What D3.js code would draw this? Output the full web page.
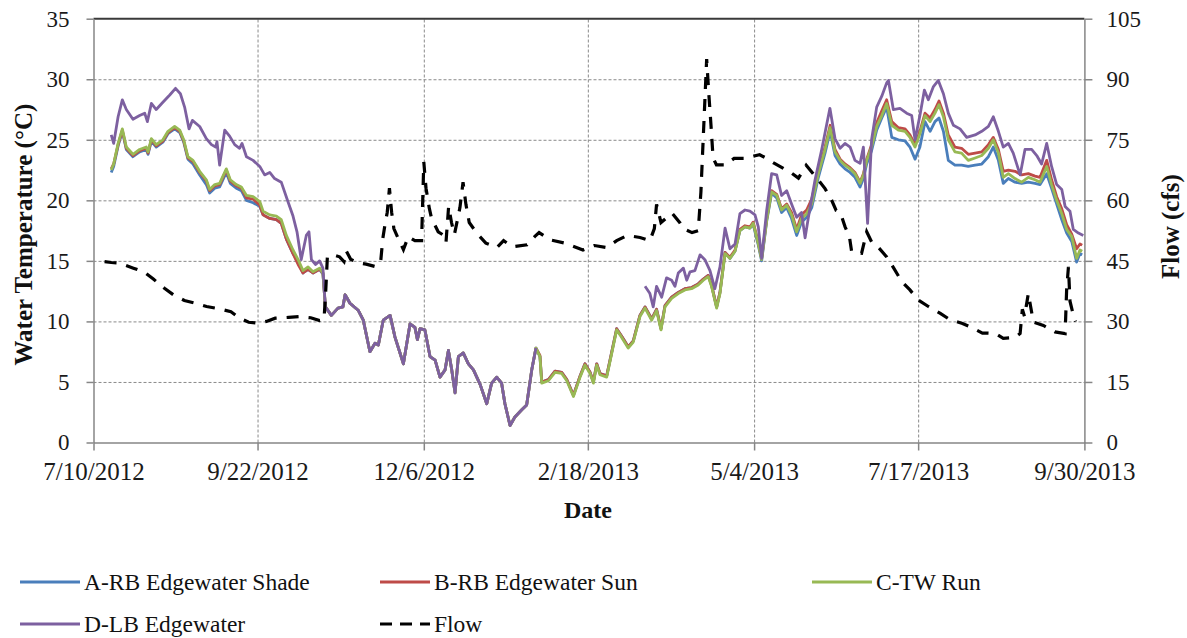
<!DOCTYPE html>
<html>
<head>
<meta charset="utf-8">
<script src="https://cdn.jsdelivr.net/npm/d3@7"></script>
<style>
  body { margin: 0; background: #fff; }
  svg { display: block; font-family: "Liberation Serif", "Times New Roman", serif; }
  .grid line { stroke: #8a8a8a; stroke-width: 1; stroke-dasharray: 3,2; }
  .grid path { display: none; }
  .axis path, .axis line { stroke: #868686; stroke-width: 1.5; }
  .axis text { fill: #1a1a1a; font-family: "Liberation Serif", "Times New Roman", serif; }
  .title { font-weight: bold; fill: #111; }
</style>
</head>
<body>
<svg id="chart" width="1187" height="638"></svg>
<script>
// ---- axis ticks ----
const dateTicks = ["7/10/2012", "9/22/2012", "12/6/2012", "2/18/2013", "5/4/2013", "7/17/2013", "9/30/2013"];
const tempTicks = [0, 5, 10, 15, 20, 25, 30, 35];
const flowTicks = [0, 15, 30, 45, 60, 75, 90, 105];

const seriesNames = ["A-RB Edgewater Shade", "B-RB Edgewater Sun", "C-TW Run", "D-LB Edgewater"];
const seriesColors = ["#4a7ebb", "#be4b48", "#98b954", "#7d60a0"];
const flowName = "Flow";

// ---- temperatures (days since 7/10/2012, deg C) ----
// Jul-Oct 2012, sites A, B, C
const earlyDays = [8, 9.1, 11.1, 13, 14.8, 17.8, 20.8, 23.8, 24.6, 26.1, 28.3, 31.3, 33.6, 36.6, 38.9, 40.7, 42.6, 44.9, 47.9, 50.9,
  52.4, 54.7, 56.9, 59.9, 61.7, 64.4, 66.7, 69, 72, 75, 76.5, 79.5, 82.5, 84.7, 87, 90, 92.3, 94.5, 96.8, 99, 102, 103.5];
const earlyA = [22.3, 22.8, 24.5, 25.7, 24.2, 23.6, 24.0, 24.2, 23.8, 24.9, 24.4, 24.8, 25.5, 25.9, 25.6, 24.8, 23.4, 23.0, 22.1, 21.3,
  20.6, 21.0, 21.1, 22.3, 21.4, 21.0, 20.8, 20.0, 19.8, 19.5, 18.8, 18.5, 18.4, 18.1, 16.8, 15.6, 14.9, 14.0, 14.3, 14.0, 14.3, 13.9];
const earlyB = [22.6, 23.0, 24.6, 25.8, 24.3, 23.7, 24.1, 24.3, 23.9, 25.0, 24.5, 24.9, 25.6, 26.0, 25.7, 24.9, 23.5, 23.2, 22.3, 21.6,
  20.8, 21.2, 21.3, 22.5, 21.6, 21.2, 21.0, 20.2, 20.1, 19.6, 18.8, 18.5, 18.4, 18.1, 16.8, 15.6, 14.7, 14.0, 14.3, 14.0, 14.3, 14.0];
const earlyC = [22.5, 23.0, 24.7, 25.9, 24.4, 23.8, 24.2, 24.4, 24.0, 25.1, 24.6, 25.0, 25.7, 26.1, 25.8, 25.0, 23.6, 23.3, 22.4, 21.7,
  20.9, 21.3, 21.4, 22.6, 21.7, 21.3, 21.1, 20.4, 20.3, 19.9, 19.1, 18.8, 18.7, 18.4, 17.1, 15.9, 15.1, 14.2, 14.5, 14.1, 14.4, 14.0];

// Oct 2012 - Jan 2013, all four sites read the same
const winterDays = [104.6, 107.3, 110.3, 112.5, 113.5, 115.7, 119.5, 121.7, 124.7, 127, 128.5, 130.7, 133.8, 136, 139.8, 142.8, 145,
  146.1, 147.3, 149.5, 151.8, 154.1, 156.3, 158.6, 160.1, 161.6, 163.1, 164.6, 166.8, 169.1, 171.4, 174.4, 177.4, 179.6, 181.9,
  184.1, 185.6, 187.9, 190.1, 193.2, 195.4, 197.7, 199.6];
const winterTemp = [11.2, 10.5, 11.1, 11.2, 12.2, 11.5, 10.9, 10.1, 7.5, 8.2, 8.05, 10.1, 10.5, 8.7, 6.5, 9.8, 9.5, 8.5, 9.4, 9.3,
  7.1, 6.8, 5.4, 6.0, 7.6, 6.0, 4.1, 7.1, 7.4, 6.5, 6.0, 4.8, 3.2, 4.9, 5.4, 4.9, 3.2, 1.4, 2.1, 2.7, 3.1, 6.0, 7.8];

// Jan-Jun 2013, sites A, B, C
const springDays = [201.4, 202.2, 205.2, 208.2, 211.2, 213.5, 216.5, 219.5, 221.7, 224, 225.5, 227, 228.5, 231.5, 233.7, 236, 238.2,
  241.2, 243.5, 246.5, 248.8, 251.8, 254, 256, 257.8, 260.8, 263.8, 266.8, 269.8, 272.8, 275.1, 277.3, 278.8, 281.1, 282.6, 284.9,
  287.1, 289.4, 291.6, 293.9, 296.1, 297.6, 299.9, 301.4, 303.7, 305.9, 308.2, 310.4, 312.7, 314.9, 317.2, 319.4, 321.7, 324, 327,
  330, 332.3, 334.5];
const springA = [7.1, 5.0, 5.2, 5.9, 5.8, 5.2, 3.9, 5.5, 6.5, 5.8, 5.0, 6.5, 5.7, 5.5, 7.4, 9.4, 8.8, 7.9, 8.4, 10.5, 11.2, 10.2,
  11.0, 9.4, 11.3, 12.0, 12.4, 12.7, 12.8, 13.1, 13.5, 13.8, 13.0, 11.2, 12.4, 15.7, 15.2, 15.8, 17.5, 17.8, 17.7, 18.0, 16.3, 15.0,
  18.3, 20.6, 20.2, 19.0, 19.4, 18.5, 17.1, 18.2, 18.6, 19.4, 21.9, 23.9, 25.7, 23.7];
const springB = [7.2, 5.0, 5.2, 5.9, 5.8, 5.2, 3.9, 5.5, 6.5, 5.8, 5.0, 6.5, 5.7, 5.5, 7.4, 9.4, 8.8, 7.9, 8.4, 10.5, 11.2, 10.2,
  11.0, 9.4, 11.3, 12.0, 12.4, 12.7, 12.8, 13.1, 13.5, 13.8, 13.0, 11.2, 12.4, 15.7, 15.3, 15.9, 17.6, 17.9, 17.8, 18.2, 16.5, 15.2,
  18.5, 20.8, 20.5, 19.3, 19.7, 19.0, 17.6, 18.8, 19.2, 20.1, 22.4, 24.4, 26.2, 24.2];
const springC = [7.1, 4.9, 5.1, 5.8, 5.7, 5.1, 3.8, 5.4, 6.4, 5.7, 4.9, 6.4, 5.6, 5.4, 7.3, 9.3, 8.7, 7.8, 8.3, 10.4, 11.1, 10.1,
  10.9, 9.3, 11.2, 11.9, 12.3, 12.6, 12.7, 13.0, 13.4, 13.7, 12.9, 11.1, 12.3, 15.6, 15.2, 15.8, 17.5, 17.8, 17.7, 18.1, 16.4, 15.1,
  18.4, 20.7, 20.4, 19.2, 19.6, 18.8, 17.4, 18.5, 18.9, 19.7, 22.2, 24.2, 26.0, 24.0];

// Jun-Sep 2013, sites A, B, C
const lateDays = [336.8, 339, 341.3, 343.5, 345.8, 347.3, 348.8, 351, 353.3, 355.6, 357.8, 360.1, 363.1, 366.1, 368.3, 370.6, 372.8,
  375.1, 377.4, 379.6, 381.4, 383.4, 385.6, 388.6, 391.6, 394.6, 397.7, 400.7, 403.7, 405.9, 408.2, 410.4, 412.7, 415.7, 418.7,
  421.7, 424.7, 427, 430, 432.2, 434.5, 436.8, 439, 441.3, 443.5, 445, 446];
const lateA = [23.0, 22.6, 22.3, 21.9, 21.1, 21.8, 23.0, 24.1, 25.8, 26.8, 27.7, 25.2, 25.0, 24.9, 24.4, 23.4, 24.4, 26.5, 25.7,
  26.5, 26.8, 25.7, 23.3, 22.9, 22.9, 22.8, 22.9, 23.0, 23.6, 24.4, 23.3, 21.4, 21.8, 21.5, 21.4, 21.5, 21.4, 21.3, 22.2, 21.0,
  19.7, 18.4, 17.3, 16.6, 14.9, 15.6, 15.5];
const lateB = [23.4, 23.0, 22.7, 22.3, 21.5, 22.2, 23.4, 24.6, 26.4, 27.4, 28.3, 26.5, 26.0, 25.9, 25.4, 24.6, 25.7, 27.2, 26.8,
  27.5, 28.2, 27.2, 25.4, 24.4, 24.3, 23.8, 23.9, 24.0, 24.6, 25.2, 24.2, 22.4, 22.5, 22.4, 22.1, 22.2, 22.0, 21.9, 23.3, 21.7,
  20.3, 19.3, 18.0, 17.2, 16.0, 16.4, 16.3];
const lateC = [23.3, 22.9, 22.6, 22.2, 21.4, 22.1, 23.3, 24.4, 26.1, 27.0, 28.0, 26.2, 25.8, 25.7, 25.2, 24.4, 25.5, 27.0, 26.5,
  27.2, 27.9, 26.9, 25.0, 24.0, 23.9, 23.3, 23.5, 23.7, 24.3, 25.0, 23.9, 21.9, 22.2, 21.8, 21.5, 21.9, 21.7, 21.5, 22.8, 21.3,
  20.0, 18.9, 17.6, 17.0, 15.2, 15.9, 15.8];

// site D (logger gap from late Jan to mid Mar 2013)
const earlyDaysD = [8, 9.1, 11.1, 13, 14.8, 17.8, 20.8, 23.1, 24.3, 26.1, 28.3, 31.3, 34.4, 37, 39.2, 41.1, 43.1, 44.6, 47.9, 50.9,
  53.2, 55.1, 55.7, 56.9, 59.2, 61.4, 63.7, 65.9, 67, 69, 72, 75, 77.2, 79.5, 81.7, 84.7, 87.7, 90, 91.8, 93.7, 96, 97.2, 98.3,
  100.2, 102, 103.5];
const earlyD = [25.4, 24.7, 26.9, 28.3, 27.5, 26.7, 27.0, 27.2, 26.5, 28.0, 27.5, 28.1, 28.7, 29.25, 28.8, 27.7, 25.9, 26.6, 26.1,
  25.1, 24.6, 24.4, 24.85, 22.9, 25.8, 25.3, 24.6, 24.3, 24.7, 23.6, 23.3, 22.8, 22.1, 22.3, 21.8, 21.5, 19.9, 18.7, 17.4, 15.1,
  17.1, 17.4, 15.1, 14.7, 15.0, 14.4];
const lateDaysD = [248.8, 251, 252.5, 254, 256.3, 258.5, 260.8, 262.3, 263.8, 266.1, 267.6, 269.1, 271.3, 273.6, 275.8, 278.1,
  280.3, 282.6, 284.9, 287.1, 289.4, 291.6, 293.9, 296.1, 298.4, 299.9, 301.4, 303.7, 305.9, 308.2, 310.4, 312.7, 314.9, 317.2,
  319.4, 321, 322.5, 325.5, 328.5, 332.2, 334.5, 336.8, 339, 341.3, 343.5, 345.8, 347.3, 349.2, 351, 353.3, 355.6, 357.8, 358.6,
  360.8, 363.8, 366.8, 369.1, 370.6, 372.8, 374.8, 376.6, 378.9, 381.1, 383.4, 385.6, 387.9, 390.9, 393.9, 397.7, 400.7, 403.7,
  405.9, 408.2, 410.4, 412.7, 414.9, 418, 420.2, 423.2, 425.5, 427.7, 430, 432.2, 434.5, 436.8, 438.3, 440.5, 442, 444.3, 446.5];
const lateD = [12.9, 12.3, 11.2, 12.9, 12.0, 13.6, 13.4, 12.9, 14.0, 14.4, 13.4, 14.1, 14.2, 15.5, 15.1, 14.2, 12.7, 14.5, 17.7,
  16.0, 16.4, 18.9, 19.2, 19.1, 18.8, 17.8, 15.2, 19.2, 22.2, 22.1, 20.4, 20.8, 19.7, 18.6, 19.0, 16.9, 18.6, 21.7, 24.2, 27.6,
  25.1, 24.3, 24.7, 24.4, 23.3, 23.05, 24.4, 18.1, 25.0, 27.7, 28.6, 29.7, 29.9, 27.5, 27.6, 27.2, 27.0, 25.0, 27.0, 29.1, 28.3,
  29.4, 29.9, 28.8, 27.2, 26.2, 25.9, 25.2, 25.4, 25.7, 26.1, 26.9, 25.7, 24.4, 24.7, 23.9, 22.1, 24.2, 24.2, 23.7, 23.0, 24.7,
  22.8, 21.3, 20.9, 19.5, 19.1, 17.6, 17.3, 17.1];

// ---- flow (days since 7/10/2012, cfs) ----
const flowDays = [5, 8, 11, 14, 18, 23, 27, 32, 36, 41, 46, 51, 57, 62, 66, 70, 74, 78, 82, 88, 93, 98, 102, 104, 104.8, 105.5,
  108, 111, 113, 114, 116, 119.5, 123, 127, 129.5, 130.5, 131.5, 132.5, 133.5, 134.5, 135.5, 137.5, 139.8, 142, 145, 148, 149,
  150, 151.5, 152.5, 155.5, 157.5, 159, 160.2, 161.5, 162.8, 164.3, 165.3, 166.7, 168, 169.5, 173, 177, 182, 185, 189, 195.6, 199,
  201, 206, 212.7, 220.8, 226, 231.6, 236, 240.7, 246.5, 251, 253, 254, 256, 261, 264.6, 266, 270, 272.8, 274, 276.6, 277.5,
  278.5, 279.5, 281, 285, 289, 294, 298, 300.5, 303, 307, 311, 315, 318, 321.5, 324, 327, 330, 333, 335, 337, 339, 341, 342,
  346.5, 348.8, 351, 353, 357.8, 361, 364.6, 368.3, 372, 376.6, 382, 386.4, 392, 395.4, 401, 403, 407, 410.4, 415.7, 418, 419,
  420, 421.7, 424, 428.5, 433.7, 438.3, 439, 439.8, 440.5, 442, 443];
const flow = [44.8, 44.6, 44.5, 44.0, 43.2, 42.2, 40.5, 38.2, 36.6, 35.2, 34.5, 33.7, 33.1, 32.4, 30.8, 29.8, 29.6, 30.0, 30.8,
  31.0, 31.2, 30.9, 30.2, 30.5, 38, 46, 46.5, 46, 44.8, 47.5, 45.4, 44.5, 44.2, 43.6, 44.5, 50.5, 54, 57, 63, 57, 53, 50.5, 47.8,
  51, 50, 50, 69.5, 63, 58, 55.5, 52.2, 51.5, 49.5, 58.5, 54.5, 51.5, 55.5, 58.2, 64.5, 59, 54.5, 51.8, 49.4, 48.3, 50, 48.5, 49,
  51, 52, 50.2, 49.4, 47.7, 48.8, 48.3, 50, 51.3, 50.8, 50, 53, 59, 54.5, 56.8, 54.4, 53, 52, 52.5, 62, 95, 87, 79, 70.5, 68.8,
  68.8, 70.4, 70.4, 71, 71.3, 70.6, 69.2, 68, 66.7, 65.5, 68.7, 67, 65, 62.9, 60, 57.5, 56.8, 53.5, 51, 47.3, 46.9, 52.2, 49.7,
  49, 46, 43.2, 39.9, 37.8, 35.3, 33.7, 32, 30.4, 29.5, 28.7, 27.1, 27.1, 27, 25.8, 26, 27, 33, 31.2, 36.9, 29.8, 29, 27.4, 27,
  38, 43.5, 35, 31.6, 30];

// ---- build the series ----
const abcDays = [...earlyDays, ...winterDays, ...springDays, ...lateDays];
const tempA = [...earlyA, ...winterTemp, ...springA, ...lateA];
const tempB = [...earlyB, ...winterTemp, ...springB, ...lateB];
const tempC = [...earlyC, ...winterTemp, ...springC, ...lateC];
const daysD = [...earlyDaysD, ...winterDays, 224, ...lateDaysD];
const tempD = [...earlyD, ...winterTemp, null, ...lateD];

const zip = (days, vals) => days.map((d, i) => ({ day: d, v: vals[i] }));
const tempSeries = [
  zip(abcDays, tempA),
  zip(abcDays, tempB),
  zip(abcDays, tempC),
  zip(daysD, tempD),
];
const flowSeries = zip(flowDays, flow);

// ---- chart ----
const svg = d3.select("#chart");
const plot = { left: 93.5, right: 1084.4, top: 18.7, bottom: 442.5 };
const width = plot.right - plot.left;
const height = plot.bottom - plot.top;
const serif = '"Liberation Serif", "Times New Roman", serif';

const parseDate = d3.timeParse("%m/%d/%Y");
const tickDates = dateTicks.map(parseDate);
const day0 = tickDates[0];
const dayToDate = d => new Date(day0.getTime() + d * 864e5);

const x = d3.scaleTime().domain([tickDates[0], tickDates[tickDates.length - 1]]).range([plot.left, plot.right]);
const yTemp = d3.scaleLinear().domain([0, 35]).range([plot.bottom, plot.top]);
const yFlow = d3.scaleLinear().domain([0, 105]).range([plot.bottom, plot.top]);

svg.append("rect").attr("width", 1187).attr("height", 638).attr("fill", "#fff");

// grid lines
svg.append("g")
  .attr("class", "grid")
  .attr("transform", `translate(${plot.left}, 0)`)
  .call(d3.axisLeft(yTemp).tickValues(tempTicks.slice(1, -1)).tickSize(-width).tickFormat(""));
svg.append("g")
  .attr("class", "grid")
  .attr("transform", `translate(0, ${plot.bottom})`)
  .call(d3.axisBottom(x).tickValues(tickDates.slice(1, -1)).tickSize(height).tickSizeOuter(0).tickFormat(""))
  .selectAll("line").attr("y2", -height);

// top border
svg.append("line")
  .attr("x1", plot.left).attr("x2", plot.right)
  .attr("y1", yTemp(35)).attr("y2", yTemp(35))
  .attr("stroke", "#3a3a3a").attr("stroke-width", 2);

// axes
svg.append("g")
  .attr("class", "axis")
  .attr("transform", `translate(${plot.left}, 0)`)
  .call(d3.axisLeft(yTemp).tickValues(tempTicks).tickSize(7).tickSizeOuter(0).tickPadding(17))
  .attr("font-family", serif)
  .attr("font-size", 23);
svg.append("g")
  .attr("class", "axis")
  .attr("transform", `translate(${plot.right}, 0)`)
  .call(d3.axisRight(yFlow).tickValues(flowTicks).tickSize(8).tickSizeOuter(0).tickPadding(14))
  .attr("font-family", serif)
  .attr("font-size", 23);
svg.append("g")
  .attr("class", "axis")
  .attr("transform", `translate(0, ${plot.bottom})`)
  .call(d3.axisBottom(x).tickValues(tickDates).tickFormat((d, i) => dateTicks[i]).tickSize(8).tickSizeOuter(0).tickPadding(12))
  .attr("font-family", serif)
  .attr("font-size", 25);

// temperature lines
const tempLine = d3.line()
  .defined(d => d.v != null)
  .x(d => x(dayToDate(d.day)))
  .y(d => yTemp(d.v));

svg.append("g")
  .selectAll("path")
  .data(tempSeries)
  .join("path")
  .attr("d", tempLine)
  .attr("fill", "none")
  .attr("stroke", (d, i) => seriesColors[i])
  .attr("stroke-width", 2.8)
  .attr("stroke-linejoin", "round");

// flow line (secondary axis)
const flowLine = d3.line()
  .x(d => x(dayToDate(d.day)))
  .y(d => yFlow(d.v));

svg.append("path")
  .datum(flowSeries)
  .attr("d", flowLine)
  .attr("fill", "none")
  .attr("stroke", "#000")
  .attr("stroke-width", 3.2)
  .attr("stroke-dasharray", "12,10");

// axis titles
svg.append("text")
  .attr("class", "title")
  .attr("transform", `translate(23, ${(plot.top + plot.bottom) / 2 + 4}) rotate(-90)`)
  .attr("text-anchor", "middle")
  .attr("dominant-baseline", "central")
  .attr("font-size", 25)
  .text("Water Temperature (°C)");
svg.append("text")
  .attr("class", "title")
  .attr("transform", `translate(1170, ${(plot.top + plot.bottom) / 2 - 4}) rotate(-90)`)
  .attr("text-anchor", "middle")
  .attr("dominant-baseline", "central")
  .attr("font-size", 25)
  .text("Flow (cfs)");
svg.append("text")
  .attr("class", "title")
  .attr("x", 588)
  .attr("y", 518)
  .attr("text-anchor", "middle")
  .attr("font-size", 24)
  .text("Date");

// legend
const legendItems = [
  { name: seriesNames[0], color: seriesColors[0], col: 0, row: 0 },
  { name: seriesNames[1], color: seriesColors[1], col: 1, row: 0 },
  { name: seriesNames[2], color: seriesColors[2], col: 2, row: 0 },
  { name: seriesNames[3], color: seriesColors[3], col: 0, row: 1 },
  { name: flowName, color: "#000", col: 1, row: 1, dash: "12,8" },
];
const legendCols = [{ x: 20, len: 60 }, { x: 380, len: 50 }, { x: 812, len: 60 }];
const legendRows = [582, 624];

const legend = svg.append("g").selectAll("g").data(legendItems).join("g")
  .attr("transform", d => `translate(${legendCols[d.col].x}, ${legendRows[d.row]})`);
legend.append("line")
  .attr("x1", 0).attr("x2", d => legendCols[d.col].len)
  .attr("stroke", d => d.color)
  .attr("stroke-width", d => (d.dash ? 3.2 : 3))
  .attr("stroke-dasharray", d => d.dash || null);
legend.append("text")
  .attr("x", d => legendCols[d.col].len + 4)
  .attr("y", 8)
  .attr("font-size", 23.5)
  .attr("fill", "#111")
  .text(d => d.name);
</script>
</body>
</html>
